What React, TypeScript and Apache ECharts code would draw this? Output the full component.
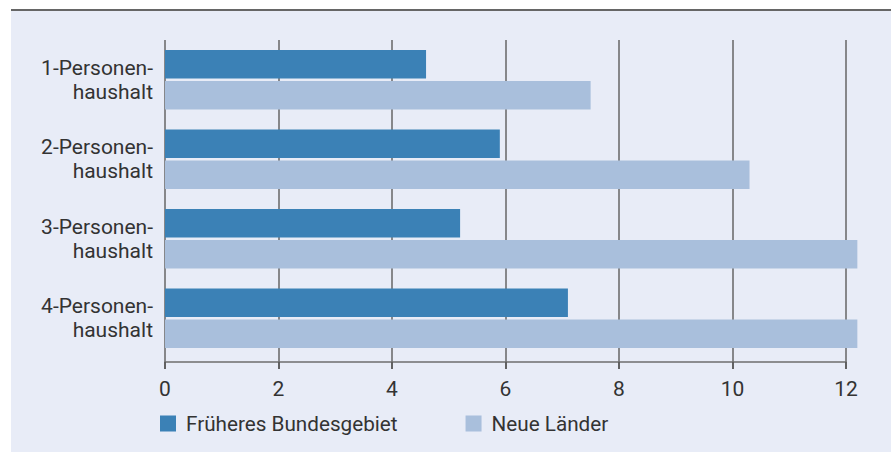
import React, { useEffect, useRef } from "react";
import * as echarts from "echarts";

const categories = ["1-Personen-\nhaushalt", "2-Personen-\nhaushalt", "3-Personen-\nhaushalt", "4-Personen-\nhaushalt"];
const seriesNames = ["Früheres Bundesgebiet", "Neue Länder"];
const frueheresBundesgebiet = [4.6, 5.9, 5.2, 7.1];
const neueLaender = [7.5, 10.3, 12.2, 12.2];
const xTicks = { min: 0, max: 12, interval: 2 };

const FONT = "Roboto";
const TEXT = "#333333";

export default function App() {
  const ref = useRef<HTMLDivElement>(null);
  useEffect(() => {
    if (!ref.current) return;
    const chart = echarts.init(ref.current, undefined, { renderer: "svg" });
    chart.setOption({
      animation: false,
      backgroundColor: "#ffffff",
      textStyle: { fontFamily: FONT },
      graphic: [
        { type: "rect", shape: { x: 11, y: 11, width: 880, height: 441 }, style: { fill: "#e8ecf7" }, z: -10 },
        { type: "line", shape: { x1: 11, y1: 10, x2: 891, y2: 10 }, style: { stroke: "#666666", lineWidth: 2 }, z: 10 },
      ],
      grid: [
        { left: 165, right: 45, top: 40, bottom: 95, containLabel: false },
        { left: 165, right: 45, top: 40, bottom: 84, containLabel: false },
      ],
      legend: {
        left: 160,
        top: 413,
        padding: 0,
        itemWidth: 16,
        itemHeight: 16,
        itemGap: 68,
        icon: "rect",
        textStyle: { fontFamily: FONT, fontSize: 20.7, color: TEXT, padding: [0, 0, 0, 5] },
        data: seriesNames,
      },
      xAxis: [
        {
          gridIndex: 0,
          type: "value",
          min: xTicks.min,
          max: xTicks.max,
          interval: xTicks.interval,
          show: false,
          splitLine: { show: false },
        },
        {
          gridIndex: 1,
          type: "value",
          min: xTicks.min,
          max: xTicks.max,
          interval: xTicks.interval,
          offset: -7,
          axisLine: { show: true, lineStyle: { color: "#6e6e6e", width: 1.5 } },
          axisTick: { show: true, inside: false, length: 7, lineStyle: { color: "#555555", width: 1.5 } },
          splitLine: { show: true, lineStyle: { color: "#666666", width: 1.5 } },
          axisLabel: { fontFamily: FONT, fontSize: 21, color: TEXT, margin: 16 },
        },
      ],
      yAxis: [
        {
          gridIndex: 0,
          type: "category",
          inverse: true,
          data: categories,
          axisLine: { show: false },
          axisTick: { show: false },
          axisLabel: { fontFamily: FONT, fontSize: 21, color: TEXT, margin: 12, align: "right", lineHeight: 24 },
        },
        {
          gridIndex: 1,
          type: "category",
          data: categories,
          show: false,
        },
      ],
      series: [
        {
          name: seriesNames[0],
          type: "bar",
          xAxisIndex: 0,
          yAxisIndex: 0,
          data: frueheresBundesgebiet,
          itemStyle: { color: "#3b81b6" },
          barGap: "9%",
          barCategoryGap: "25%",
          clip: false,
          z: 3,
        },
        {
          name: seriesNames[1],
          type: "bar",
          xAxisIndex: 0,
          yAxisIndex: 0,
          data: neueLaender,
          itemStyle: { color: "#a9bfdc" },
          barGap: "9%",
          barCategoryGap: "25%",
          clip: false,
          z: 3,
        },
      ],
    });
    return () => chart.dispose();
  }, []);
  return <div ref={ref} style={{ position: "fixed", left: 0, top: 0, width: 891, height: 453 }} />;
}
